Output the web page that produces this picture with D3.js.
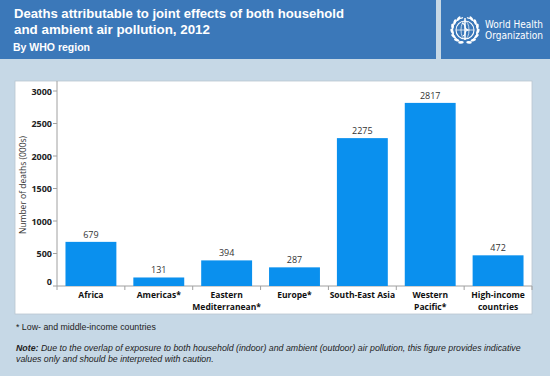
<!DOCTYPE html>
<html><head><meta charset="utf-8">
<script src="https://cdn.jsdelivr.net/npm/d3@7"></script>
<style>body{margin:0;padding:0;background:#c6d8e6;}svg{display:block;}</style>
</head><body>
<script>
const categories = [["Africa"],["Americas*"],["Eastern","Mediterranean*"],["Europe*"],["South-East Asia"],["Western","Pacific*"],["High-income","countries"]];
const values = [679, 131, 394, 287, 2275, 2817, 472];
const yTicks = [0, 500, 1000, 1500, 2000, 2500, 3000];
const titleLines = ["Deaths attributable to joint effects of both household", "and ambient air pollution, 2012"];
const subtitle = "By WHO region";
const yTitle = "Number of deaths (000s)";

const W = 550, H = 376;
const svg = d3.select("body").append("svg").attr("width", W).attr("height", H);
svg.append("rect").attr("width", W).attr("height", H).attr("fill", "#c6d8e6");

// header
svg.append("rect").attr("x",0).attr("y",0).attr("width",436).attr("height",59).attr("fill","#3b78b9");
svg.append("rect").attr("x",441).attr("y",0).attr("width",109).attr("height",59).attr("fill","#3b78b9");
const hf = "'Liberation Sans', Arial, sans-serif";
const tl = [330, 196];
titleLines.forEach((t,i)=>{
  svg.append("text").attr("x",14).attr("y",18+i*16).attr("fill","#fff")
    .attr("font-family",hf).attr("font-weight","bold").attr("font-size","12px")
    .attr("textLength",tl[i]).attr("lengthAdjust","spacingAndGlyphs").text(t);
});
svg.append("text").attr("x",13).attr("y",51).attr("fill","#fff")
  .attr("font-family",hf).attr("font-weight","bold").attr("font-size","10.5px").text(subtitle);

// WHO logo
const lg = svg.append("g").attr("transform","translate(465,30)").attr("fill","none").attr("stroke","#fff");
lg.append("circle").attr("r",9).attr("stroke-width",1.1);
lg.append("ellipse").attr("rx",4).attr("ry",9).attr("stroke-width",0.7);
lg.append("line").attr("x1",-9).attr("x2",9).attr("stroke-width",0.7);
lg.append("line").attr("x1",0).attr("x2",0).attr("y1",-12).attr("y2",10).attr("stroke-width",1.5);
lg.append("path").attr("d","M-3,-7 C3,-5 -3,-2 3,0 C-3,2 3,4 -2,6").attr("stroke-width",1.2);
[-1,1].forEach(s=>{
  lg.append("path").attr("d", d3.arc()({innerRadius:12.5,outerRadius:12.5,startAngle:s*Math.PI*0.15,endAngle:s*Math.PI*0.95}))
    .attr("stroke-width",0.8).attr("transform","rotate(180)");
  d3.range(0,7).forEach(k=>{
    const a = (-60 + k*22) * Math.PI/180; // angle from horizontal
    const cx = s*13*Math.cos(a), cy = 13*Math.sin(a);
    lg.append("ellipse").attr("cx",cx).attr("cy",cy).attr("rx",1.3).attr("ry",2.8)
      .attr("fill","#fff").attr("stroke","none")
      .attr("transform",`rotate(${s*(a*180/Math.PI)+ (s>0?20:-20)},${cx},${cy})`);
  });
});
const lf = "'DejaVu Sans Condensed','DejaVu Sans',sans-serif";
svg.append("text").attr("x",485).attr("y",28).attr("fill","#fff").attr("font-family",lf)
  .attr("font-size","10px").attr("textLength",58).attr("lengthAdjust","spacingAndGlyphs").text("World Health");
svg.append("text").attr("x",485).attr("y",39).attr("fill","#fff").attr("font-family",lf)
  .attr("font-size","10px").attr("textLength",58).attr("lengthAdjust","spacingAndGlyphs").text("Organization");

// panel
svg.append("rect").attr("x",15).attr("y",81).attr("width",517).attr("height",233).attr("fill","#fff").attr("stroke","#b9c6d0").attr("stroke-width",0.8);

const x0 = 57, x1 = 532, yBase = 286;
const x = d3.scaleBand().domain(d3.range(categories.length)).range([x0, x1]).paddingInner(0.25).paddingOuter(0.125);
const y = d3.scaleLinear().domain([0, 3000]).range([yBase, 91]);
const cf = "'Open Sans', 'Liberation Sans', sans-serif";

// axes
svg.append("line").attr("x1",x0).attr("x2",x0).attr("y1",81).attr("y2",yBase).attr("stroke","#a0a0a0").attr("stroke-width",1);
svg.append("line").attr("x1",x0).attr("x2",x1).attr("y1",yBase).attr("y2",yBase).attr("stroke","#a0a0a0").attr("stroke-width",1);
yTicks.forEach(v=>{
  svg.append("line").attr("x1",x0-4).attr("x2",x0).attr("y1",y(v)).attr("y2",y(v)).attr("stroke","#a0a0a0");
  svg.append("text").attr("x",52).attr("y",(v===0? y(v)-5 : y(v))+3.5).attr("text-anchor","end")
    .attr("font-family",cf).attr("font-weight","bold").attr("font-size","9px").attr("fill","#222").text(v);
});
// category boundary ticks
const bounds = d3.range(0, categories.length+1).map(i => (i===0? x0 : (i===categories.length ? x1 : x(i) - x.step()*x.paddingInner()/2)));
bounds.forEach(b=>{
  svg.append("line").attr("x1",b).attr("x2",b).attr("y1",yBase).attr("y2",yBase+4).attr("stroke","#a0a0a0");
});

// bars
svg.selectAll("rect.bar").data(values).enter().append("rect").attr("class","bar")
  .attr("x",(d,i)=>x(i)).attr("width",x.bandwidth()).attr("y",d=>y(d)).attr("height",d=>yBase-y(d)).attr("fill","#0a90ee");
svg.selectAll("text.val").data(values).enter().append("text").attr("class","val")
  .attr("x",(d,i)=>x(i)+x.bandwidth()/2).attr("y",d=>y(d)-4).attr("text-anchor","middle")
  .attr("font-family",cf).attr("font-size","9px").attr("fill","#333").text(d=>d);

// category labels
categories.forEach((lines,i)=>{
  lines.forEach((t,j)=>{
    svg.append("text").attr("x",x(i)+x.bandwidth()/2).attr("y",298+j*12).attr("text-anchor","middle")
      .attr("font-family",cf).attr("font-weight","bold").attr("font-size","8.5px").attr("fill","#111").text(t);
  });
});

// y title
svg.append("text").attr("transform","translate(26,185) rotate(-90)").attr("text-anchor","middle")
  .attr("font-family",cf).attr("font-size","8.5px").attr("fill","#333").text(yTitle);

// footnotes
const ff = "'Liberation Sans', Arial, sans-serif";
svg.append("text").attr("x",16).attr("y",330).attr("font-family",ff).attr("font-size","8.8px").attr("fill","#222").text("* Low- and middle-income countries");
const n1 = svg.append("text").attr("x",16).attr("y",351).attr("font-family",ff).attr("font-size","8.8px").attr("font-style","italic").attr("fill","#222");
n1.append("tspan").attr("font-weight","bold").text("Note:");
n1.append("tspan").text(" Due to the overlap of exposure to both household (indoor) and ambient (outdoor) air pollution, this figure provides indicative");
svg.append("text").attr("x",16).attr("y",362).attr("font-family",ff).attr("font-size","8.8px").attr("font-style","italic").attr("fill","#222")
  .text("values only and should be interpreted with caution.");
</script>
</body></html>
